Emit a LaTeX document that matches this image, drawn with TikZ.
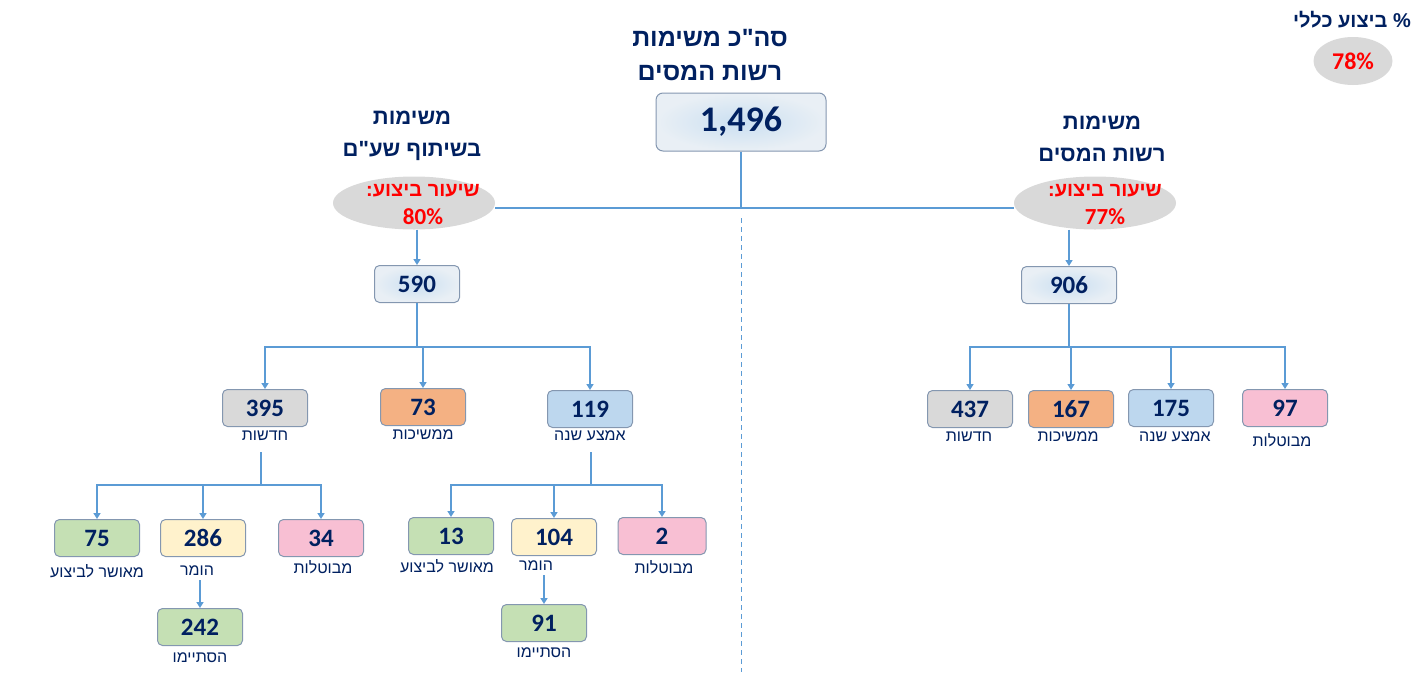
\documentclass[tikz,border=0pt]{standalone}
\usepackage{fontspec}
\setmainfont{Liberation Sans}
\newfontfamily\hebfont{Liberation Sans}[Script=Hebrew]
\newfontfamily\numfont{Carlito}
\usetikzlibrary{arrows.meta,shapes.geometric}
\TeXXeTstate=1
\definecolor{navy}{HTML}{002060}
\definecolor{linkblue}{HTML}{5B9BD5}
\definecolor{boxline}{HTML}{8497B0}
\definecolor{ellgrey}{HTML}{D9D9D9}
\definecolor{newgrey}{HTML}{D9D9D9}
\definecolor{contorange}{HTML}{F4B183}
\definecolor{midblue}{HTML}{BDD7EE}
\definecolor{cancelpink}{HTML}{F8BFD3}
\definecolor{okgreen}{HTML}{C5E0B4}
\definecolor{convyellow}{HTML}{FFF2CC}
\newcommand{\heb}[1]{{\hebfont\beginR #1\endR}}
\tikzset{
  box/.style={draw=boxline, line width=1pt, rounded corners=5pt, minimum width=85pt,
    minimum height=37pt, inner sep=0pt, text=navy, font=\numfont\bfseries\fontsize{25}{30}\selectfont},
  sumbox/.style={box, inner color=midblue!80!white, outer color=newgrey!40!midblue!40!white},
  sub/.style={inner sep=0pt, text=navy, font=\fontsize{16}{18}\selectfont},
  title/.style={inner sep=0pt, text=navy, align=center, font=\bfseries\fontsize{22}{32}\selectfont},
  rate/.style={ellipse, fill=ellgrey, inner sep=0pt, minimum width=162pt, minimum height=53pt},
  ratetext/.style={inner sep=0pt, align=center, text=red, font=\bfseries\fontsize{20}{28}\selectfont},
  link/.style={draw=linkblue, line width=1.6pt},
  arr/.style={link, -{Triangle[width=7pt,length=6pt]}},
}
\begin{document}
\begin{tikzpicture}[x=1pt,y=-1pt]
    \useasboundingbox (0,0) rectangle (1411,675);

    % Overall rate
    \node[title, font=\bfseries\fontsize{20}{24}\selectfont] (alltitle) at (1352,20) {\heb{\% ביצוע כללי}};
    \node[rate, minimum width=79pt, minimum height=48pt] (allrate) at (1353,61) {};
    \node[ratetext] (allval) at (allrate) {{\numfont\fontsize{24}{28}\selectfont 78\%}};

    % Total
    \node[title, font=\bfseries\fontsize{25}{34}\selectfont] (toptitle) at (710,55)
        {\heb{סה"כ משימות}\\\heb{רשות המסים}};
    \node[sumbox, minimum width=170pt, minimum height=58pt, rounded corners=7pt,
        font=\numfont\bfseries\fontsize{36}{40}\selectfont] (total) at (741,122) {1,496};

    % Left branch: joint tasks
    \node[title] (ltitle) at (412,136) {\heb{משימות}\\\heb{בשיתוף שע"ם}};
    \node[rate] (ellL) at (414,203) {};
    \node[ratetext] (rateL) at (423,205)
        {\heb{שיעור ביצוע:}\\{\numfont\fontsize{23}{28}\selectfont 80\%}};
    \node[sumbox] (n590) at (417,284) {590};

    % Right branch: tax authority tasks
    \node[title] (rtitle) at (1102,139) {\heb{משימות}\\\heb{רשות המסים}};
    \node[rate] (ellR) at (1095,203) {};
    \node[ratetext] (rateR) at (1105,205)
        {\heb{שיעור ביצוע:}\\{\numfont\fontsize{23}{28}\selectfont 77\%}};
    \node[sumbox, minimum width=95pt] (n906) at (1069,285) {906};

    % Trunk
    \coordinate (hub) at (741,208);
    \draw[link] (total.south) -- (hub);
    \draw[link] (ellL.east |- hub) -- (ellR.west |- hub);
    \draw[link, line width=1pt, dash pattern=on 5pt off 4pt] (741,218) -- (741,672);
    \draw[arr] (ellL.south -| n590) -- (n590.north);
    \draw[arr] (ellR.south -| n906) -- (n906.north);

    % Left second row
    \node[box, fill=newgrey] (n395) at (265,408) {395};
    \node[box, fill=contorange] (n73) at (423,407) {73};
    \node[box, fill=midblue] (n119) at (590,409) {119};
    \node[sub] (l395) at (265,436) {\heb{חדשות}};
    \node[sub] (l73) at (423,435) {\heb{ממשיכות}};
    \node[sub] (l119) at (590,436) {\heb{אמצע שנה}};
    \draw[arr] (n590.south) -- ++(0,44) -| (n395.north);
    \draw[arr] (n590.south) -- ++(0,44) -| (n73.north);
    \draw[arr] (n590.south) -- ++(0,44) -| (n119.north);

    % Right second row
    \node[box, fill=newgrey] (n437) at (970,409) {437};
    \node[box, fill=contorange] (n167) at (1071,409) {167};
    \node[box, fill=midblue] (n175) at (1171,408) {175};
    \node[box, fill=cancelpink] (n97) at (1285,408) {97};
    \node[sub] (l437) at (969,437) {\heb{חדשות}};
    \node[sub] (l167) at (1068,437) {\heb{ממשיכות}};
    \node[sub] (l175) at (1175,437) {\heb{אמצע שנה}};
    \node[sub] (l97) at (1282,440) {\heb{מבוטלות}};
    \draw[arr] (n906.south) -- ++(0,43) -| (n437.north);
    \draw[arr] (n906.south) -- ++(0,43) -| (n167.north);
    \draw[arr] (n906.south) -- ++(0,43) -| (n175.north);
    \draw[arr] (n906.south) -- ++(0,43) -| (n97.north);

    % New tasks split
    \node[box, fill=okgreen] (n75) at (97,538) {75};
    \node[box, fill=convyellow] (n286) at (203,538) {286};
    \node[box, fill=cancelpink] (n34) at (321,538) {34};
    \node[sub] (l75) at (97,571) {\heb{מאושר לביצוע}};
    \node[sub] (l286) at (197,571) {\heb{הומר}};
    \node[sub] (l34) at (323,567) {\heb{מבוטלות}};
    \coordinate (s395) at (261,452);
    \draw[arr] (s395) -- ++(0,33) -| (n75.north);
    \draw[arr] (s395) -- ++(0,33) -| (n286.north);
    \draw[arr] (s395) -- ++(0,33) -| (n34.north);
    \node[box, fill=okgreen] (n242) at (200,627) {242};
    \node[sub] (l242) at (200,658) {\heb{הסתיימו}};
    \coordinate (s286) at (200,580);
    \draw[arr] (s286) -- (n242.north);

    % Mid-year tasks split
    \node[box, fill=okgreen] (n13) at (451,536) {13};
    \node[box, fill=convyellow] (n104) at (554,537) {104};
    \node[box, fill=cancelpink, minimum width=88pt] (n2) at (662,536) {2};
    \node[sub] (l13) at (447,566) {\heb{מאושר לביצוע}};
    \node[sub] (l104) at (536,566) {\heb{הומר}};
    \node[sub] (l2) at (664,567) {\heb{מבוטלות}};
    \coordinate (s119) at (591,452);
    \draw[arr] (s119) -- ++(0,33) -| (n13.north);
    \draw[arr] (s119) -- ++(0,33) -| (n104.north);
    \draw[arr] (s119) -- ++(0,33) -| (n2.north);
    \node[box, fill=okgreen] (n91) at (544,623) {91};
    \node[sub] (l91) at (544,653) {\heb{הסתיימו}};
    \coordinate (s104) at (544,575);
    \draw[arr] (s104) -- (n91.north);
\end{tikzpicture}
\end{document}
